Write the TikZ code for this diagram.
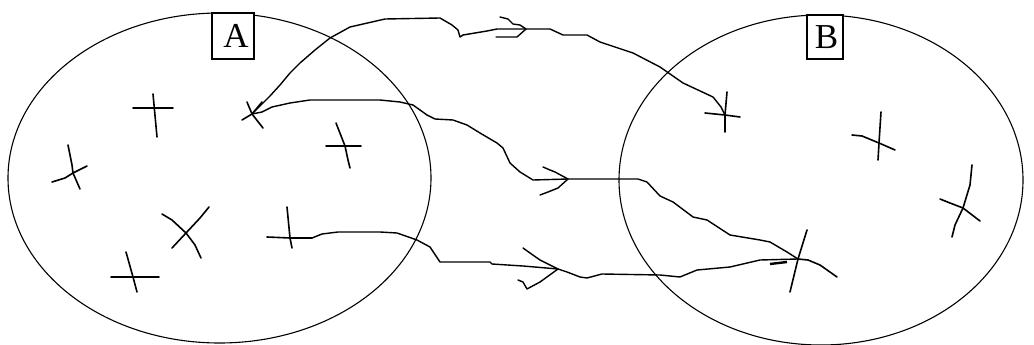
\documentclass[tikz,border=0pt]{standalone}
\usepackage{fontspec}
\setmainfont{Liberation Serif}
\usetikzlibrary{shapes.geometric}
\begin{document}
\begin{tikzpicture}[x=1pt,y=-1pt,
  setshape/.style={draw, ellipse, line width=1.1pt, inner sep=0pt},
  labelbox/.style={draw, fill=white, line width=1.1pt, inner sep=0pt, font=\fontsize{35}{35}\selectfont},
  stroke/.style={line width=1.6pt, line join=round, line cap=round},
  wire/.style={line width=1.4pt, line join=round, line cap=round},
]
\useasboundingbox (0,0) rectangle (1034,345);
% sets
\node[setshape, minimum width=423pt, minimum height=330pt] (setA) at (219.5,178) {};
\node[setshape, minimum width=404pt, minimum height=330pt] (setB) at (821,180) {};
\node[labelbox, minimum width=42pt, minimum height=46pt] (labA) at (233,36) {\kern6pt A};
\node[labelbox, minimum width=36pt, minimum height=44pt] (labB) at (825,37) {\kern3pt B};
% element centres
\coordinate (a1) at (154,108);
\coordinate (a2) at (252,114);
\coordinate (a3) at (345,146);
\coordinate (a4) at (73,173);
\coordinate (a5) at (186,233);
\coordinate (a6) at (290,238);
\coordinate (a7) at (133,277);
\coordinate (b1) at (725,115);
\coordinate (b2) at (879,143);
\coordinate (b3) at (963,208);
\coordinate (b4) at (798,259);
% crosses in A
\draw[stroke] (133,108) -- (173,108);
\draw[stroke] (153,94) -- (157,137);
\draw[stroke] (242,120) -- (a2) -- (262,102);
\draw[stroke] (247,102) -- (a2) -- (263,128);
\draw[stroke] (326,146) -- (361,146);
\draw[stroke] (336,123) -- (a3) -- (348,160) -- (350,168);
\draw[stroke] (52,182) -- (65,178) -- (a4) -- (87,166);
\draw[stroke] (68,145) -- (72,165) -- (a4) -- (80,189);
\draw[stroke] (162,214) -- (172,220) -- (a5) -- (195,245) -- (201,258);
\draw[stroke] (172,248) -- (a5) -- (200,218) -- (209,207);
\draw[stroke] (267,237) -- (a6) -- (312,238);
\draw[stroke] (287,207) -- (a6) -- (292,248);
\draw[stroke] (111,277) -- (159,277);
\draw[stroke] (126,252) -- (a7) -- (137,292);
% crosses in B
\draw[stroke] (727,92) -- (b1) -- (725,132);
\draw[stroke] (705,113) -- (b1) -- (740,117);
\draw[stroke] (881,112) -- (b2) -- (878,160);
\draw[stroke] (852,135) -- (862,136) -- (b2) -- (895,150);
\draw[stroke] (972,165) -- (970,185) -- (b3) -- (955,225) -- (952,237);
\draw[stroke] (940,199) -- (950,203) -- (b3) -- (980,221);
\draw[stroke] (807,230) -- (b4) -- (790,292);
\draw[stroke] (b4) -- (808,260) -- (820,265) -- (837,277);
\draw[line width=2.4pt] (770,264) -- (787,262);
% arrow tips
\coordinate (t1) at (526,29);
\coordinate (t2) at (568,179);
\coordinate (t3) at (558,269);
% connector 1: a2 -> b1
\draw[wire] (a2) -- (262,104) -- (270,96) -- (280,85) -- (290,73) -- (300,63) -- (315,50)
  -- (330,38) -- (350,27) -- (385,19) -- (440,18) -- (452,25) -- (458,30) -- (460,37)
  -- (463,35) -- (487,31) -- (497,29) -- (t1) -- (550,29) -- (563,35) -- (587,35) -- (600,42)
  -- (633,53) -- (660,67) -- (683,83) -- (713,97) -- (721,107) -- (b1);
\draw[wire] (500,17) -- (508,19) -- (513,24) -- (520,25) -- (t1);
\draw[wire] (496,37) -- (517,37) -- (t1);
% connector 2: a2 -> b4
\draw[wire] (a2) -- (262,112) -- (272,107) -- (290,103) -- (310,100) -- (345,100) -- (380,100)
  -- (400,102) -- (413,105) -- (427,115) -- (435,119) -- (453,120) -- (467,125) -- (480,133)
  -- (497,143) -- (503,148) -- (510,163) -- (520,172) -- (533,180) -- (t2) -- (638,179)
  -- (647,182) -- (660,196) -- (673,202) -- (693,217) -- (707,220) -- (730,235) -- (760,240)
  -- (770,242) -- (787,252) -- (b4);
\draw[wire] (543,167) -- (550,170) -- (555,172) -- (t2);
\draw[wire] (540,195) -- (548,192) -- (558,188) -- (t2);
% connector 3: a6 -> b4
\draw[wire] (a6) -- (312,238) -- (322,234) -- (338,232) -- (380,232) -- (397,233) -- (417,240)
  -- (430,247) -- (440,262) -- (490,262) -- (492,264) -- (523,266) -- (t3) -- (567,272)
  -- (580,277) -- (587,278) -- (602,274) -- (660,275) -- (680,277) -- (697,270) -- (730,267)
  -- (760,260) -- (b4);
\draw[wire] (523,248) -- (530,253) -- (540,260) -- (t3);
\draw[wire] (518,280) -- (523,282) -- (527,289) -- (540,282) -- (t3);
\end{tikzpicture}
\end{document}
